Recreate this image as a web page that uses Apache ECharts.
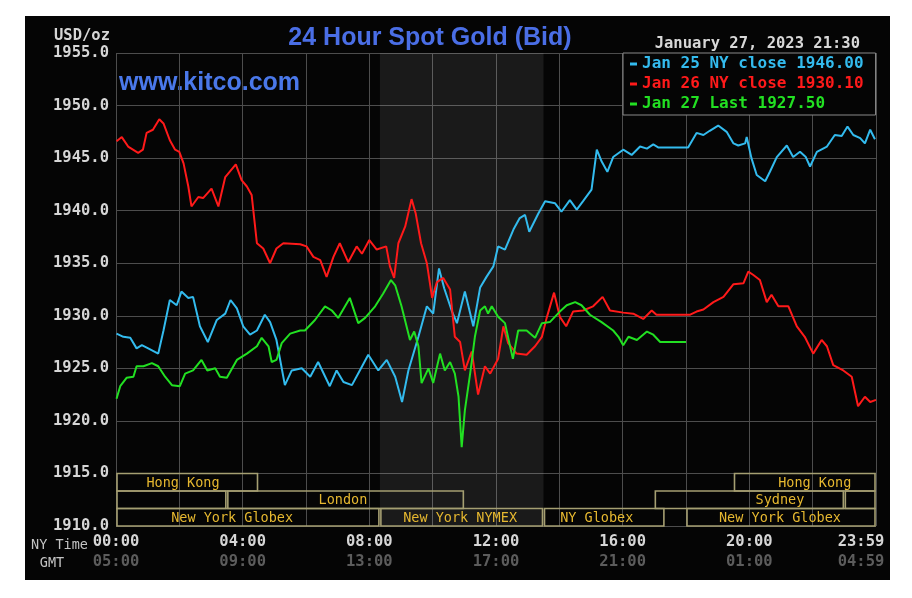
<!DOCTYPE html>
<html><head><meta charset="utf-8">
<script src="https://cdn.jsdelivr.net/npm/echarts@6/dist/echarts.min.js"></script>
<style>
html,body{margin:0;padding:0;background:#fff;}
#bg{position:absolute;left:25px;top:16px;width:865px;height:564px;background:#050505;}
#chart{position:absolute;left:0;top:0;width:912px;height:598px;}
</style></head><body>
<div id="bg"></div><div id="chart"></div>
<script>
// ---- data (minutes after 00:00 NY time, price) ----
const jan25 = [[1,1928.3],[14,1928.0],[27,1927.9],[39,1926.9],[49,1927.2],[61,1926.9],[80,1926.4],[90,1928.6],[102,1931.5],[115,1931.0],[124,1932.3],[137,1931.7],[146,1931.8],[159,1929.0],[174,1927.5],[191,1929.6],[207,1930.2],[217,1931.5],[229,1930.7],[241,1929.0],[254,1928.2],[267,1928.6],[282,1930.1],[292,1929.4],[304,1927.7],[320,1923.4],[333,1924.8],[352,1925.0],[368,1924.2],[383,1925.6],[405,1923.3],[418,1924.8],[431,1923.7],[447,1923.4],[462,1924.8],[478,1926.3],[497,1924.8],[513,1925.8],[529,1924.2],[542,1921.8],[554,1924.8],[573,1928.0],[589,1930.9],[601,1930.2],[612,1934.5],[622,1932.6],[636,1930.5],[646,1929.3],[661,1932.3],[677,1929.0],[690,1932.7],[702,1933.7],[715,1934.7],[724,1936.6],[737,1936.3],[753,1938.2],[765,1939.3],[775,1939.6],[783,1938.0],[800,1939.7],[813,1940.9],[832,1940.7],[844,1939.9],[860,1941.0],[873,1940.1],[885,1940.9],[901,1942.0],[911,1945.8],[920,1944.7],[931,1943.7],[942,1945.1],[961,1945.8],[977,1945.3],[993,1946.1],[1006,1945.9],[1018,1946.3],[1028,1946.0],[1084,1946.0],[1100,1947.4],[1113,1947.2],[1125,1947.6],[1141,1948.1],[1157,1947.5],[1170,1946.4],[1179,1946.2],[1192,1946.4],[1195,1947.0],[1204,1945.0],[1214,1943.4],[1230,1942.8],[1239,1943.7],[1252,1945.1],[1271,1946.2],[1283,1945.1],[1296,1945.6],[1307,1945.1],[1315,1944.2],[1328,1945.6],[1347,1946.1],[1362,1947.2],[1375,1947.1],[1386,1948.0],[1397,1947.2],[1410,1946.9],[1419,1946.4],[1429,1947.7],[1438,1946.8]];
const jan26 = [[1,1946.6],[11,1947.0],[23,1946.1],[42,1945.5],[51,1945.8],[58,1947.4],[70,1947.7],[82,1948.7],[90,1948.3],[102,1946.7],[112,1945.8],[120,1945.6],[128,1944.5],[137,1942.3],[143,1940.4],[156,1941.3],[165,1941.2],[181,1942.1],[194,1940.4],[207,1943.2],[227,1944.4],[238,1942.9],[248,1942.3],[257,1941.5],[267,1936.9],[279,1936.4],[292,1935.0],[304,1936.4],[317,1936.9],[349,1936.8],[361,1936.6],[374,1935.6],[387,1935.3],[399,1933.7],[412,1935.6],[424,1936.9],[440,1935.1],[456,1936.6],[466,1935.9],[480,1937.2],[494,1936.3],[512,1936.6],[519,1934.7],[527,1933.6],[535,1936.9],[548,1938.5],[560,1941.1],[568,1939.7],[578,1936.9],[589,1935.0],[599,1931.7],[608,1933.2],[620,1933.6],[633,1932.5],[642,1928.0],[652,1927.5],[661,1924.8],[674,1926.6],[686,1922.5],[699,1925.2],[709,1924.5],[724,1925.9],[734,1929.0],[743,1927.4],[759,1926.4],[778,1926.3],[794,1927.1],[807,1928.0],[816,1929.8],[830,1932.2],[841,1929.9],[853,1929.0],[866,1930.4],[885,1930.5],[904,1930.9],[922,1931.8],[936,1930.5],[961,1930.3],[980,1930.2],[999,1929.7],[1015,1930.5],[1024,1930.1],[1088,1930.1],[1100,1930.4],[1113,1930.6],[1132,1931.3],[1151,1931.8],[1170,1933.0],[1189,1933.1],[1198,1934.2],[1207,1933.9],[1220,1933.4],[1233,1931.3],[1242,1932.0],[1255,1930.9],[1274,1930.9],[1290,1929.0],[1305,1928.0],[1321,1926.4],[1337,1927.7],[1347,1927.1],[1359,1925.3],[1378,1924.8],[1394,1924.2],[1406,1921.4],[1419,1922.3],[1429,1921.8],[1440,1922.0]];
const jan27 = [[1,1922.1],[8,1923.3],[20,1924.1],[33,1924.2],[39,1925.2],[52,1925.2],[68,1925.5],[80,1925.2],[93,1924.2],[106,1923.4],[121,1923.3],[131,1924.5],[146,1924.8],[162,1925.8],[173,1924.8],[188,1925.0],[197,1924.2],[210,1924.1],[229,1925.8],[248,1926.4],[267,1927.1],[276,1927.9],[289,1927.1],[295,1925.6],[304,1925.8],[314,1927.4],[330,1928.3],[349,1928.6],[358,1928.6],[377,1929.6],[396,1930.9],[409,1930.5],[421,1929.8],[443,1931.7],[459,1929.3],[472,1929.8],[491,1930.9],[506,1932.1],[521,1933.4],[529,1932.9],[541,1930.9],[557,1927.7],[565,1928.5],[573,1927.1],[579,1923.6],[592,1925.0],[601,1923.6],[614,1926.4],[623,1924.8],[633,1925.6],[642,1924.5],[649,1922.3],[655,1917.5],[661,1921.0],[671,1924.5],[680,1928.0],[690,1930.5],[699,1930.9],[705,1930.2],[712,1930.9],[724,1929.9],[737,1929.3],[752,1925.9],[762,1928.6],[778,1928.6],[794,1927.9],[807,1929.3],[822,1929.4],[841,1930.4],[854,1931.0],[870,1931.3],[882,1931.0],[898,1930.1],[920,1929.4],[942,1928.6],[952,1928.0],[961,1927.2],[971,1928.0],[987,1927.7],[1006,1928.5],[1018,1928.2],[1031,1927.5],[1080,1927.5]];
const seriesNames = ['Jan 25 NY close 1946.00', 'Jan 26 NY close 1930.10', 'Jan 27 Last 1927.50'];
const seriesColors = ['#33bbee', '#ff1a1a', '#22e022'];
// y axis
const yMin = 1910, yMax = 1955, yStep = 5;
// x axis (minutes)
const xMin = 0, xMax = 1440, xStep = 120, xLabelStep = 240;
const nymexSpan = [500, 810];
// trading sessions: row, start, end, label, label anchor (minutes)
const sessions = [
  {row:0, start:0, end:270, label:'Hong Kong', at:127},
  {row:0, start:1170, end:1440, label:'Hong Kong', at:1324},
  {row:1, start:0, end:210, label:'', at:105},
  {row:1, start:210, end:660, label:'London', at:430},
  {row:1, start:1020, end:1380, label:'Sydney', at:1258},
  {row:1, start:1380, end:1440, label:'', at:1410},
  {row:2, start:0, end:500, label:'New York Globex', at:220},
  {row:2, start:500, end:810, label:'New York NYMEX', at:652},
  {row:2, start:810, end:1040, label:'NY Globex', at:911},
  {row:2, start:1080, end:1440, label:'New York Globex', at:1258}
];

const MONO = '"DejaVu Sans Mono", monospace';
const chart = echarts.init(document.getElementById('chart'), null, {renderer:'canvas'});
function pad(n){ return (n<10?'0':'') + n; }

const lineSeries = [jan25, jan26, jan27].map((d, i) => ({
  type:'line', name: seriesNames[i], data: d, showSymbol:false, symbol:'none',
  lineStyle:{color: seriesColors[i], width:2}, itemStyle:{color: seriesColors[i]},
  z: 3 + i,
  markArea: i === 0 ? {silent:true, itemStyle:{color:'rgba(255,255,255,0.085)'},
    data:[[{xAxis: nymexSpan[0]}, {xAxis: nymexSpan[1]}]]} : undefined
}));

const rowH = yStep / 3;
const sessionSeries = {
  type:'custom', silent:true, z: 2,
  data: sessions.map(s => [s.start, s.end]),
  encode:{x:[0,1]},
  renderItem: function(params, api){
    const s = sessions[params.dataIndex];
    const top = (yMin + yStep) - s.row * rowH;
    const p1 = api.coord([s.start, top]);
    const p2 = api.coord([s.end, top - rowH]);
    const children = [{
      type:'rect',
      shape:{x: p1[0] + 1, y: p1[1], width: p2[0] - p1[0] - 2, height: p2[1] - p1[1]},
      style:{fill:'rgba(0,0,0,0)', stroke:'#a59f72', lineWidth:1.6}
    }];
    if (s.label) {
      const c = api.coord([s.at, top - rowH/2]);
      children.push({type:'text', style:{text: s.label, x: c[0], y: c[1] + 1,
        fill:'#e6b830', font:'13.5px ' + MONO, align:'center', verticalAlign:'middle'}});
    }
    return {type:'group', children};
  }
};

chart.setOption({
  animation:false,
  backgroundColor:'transparent',
  grid:{left:116, right:36, top:53, bottom:72, containLabel:false, outerBoundsMode:'none'},
  legend:{
    data: seriesNames.map((n,i) => ({name:n, textStyle:{color: seriesColors[i]}})),
    orient:'vertical', left:623, top:53, icon:'rect', itemWidth:7, itemHeight:3, itemGap:4,
    padding:[3,12,3,7], backgroundColor:'#050505', borderColor:'#8a8a8a', borderWidth:1,
    selectedMode:false,
    textStyle:{fontFamily: MONO, fontWeight:'bold', fontSize:16, lineHeight:13}
  },
  xAxis:{
    type:'value', min:xMin, max:xMax, interval:xStep,
    axisLine:{show:false}, axisTick:{show:false},
    splitLine:{show:true, lineStyle:{color:'#4d4d4d', width:1}},
    axisLabel:{
      margin:6, lineHeight:20,
      formatter: function(v){
        if (v === xMax) return '{ce|23:59}\n{de|04:59}';
        if (v % xLabelStep !== 0) return '';
        const h = v / 60;
        return '{a|' + pad(h) + ':00}\n{b|' + pad((h + 5) % 24) + ':00}';
      },
      rich:{
        a:{color:'#d6d6d6', fontFamily:MONO, fontWeight:'bold', fontSize:15.5, lineHeight:20},
        b:{color:'#5c5c5c', fontFamily:MONO, fontWeight:'bold', fontSize:15.5, lineHeight:20},
        ce:{color:'#d6d6d6', fontFamily:MONO, fontWeight:'bold', fontSize:15.5, lineHeight:20, padding:[0,30,0,0]},
        de:{color:'#5c5c5c', fontFamily:MONO, fontWeight:'bold', fontSize:15.5, lineHeight:20, padding:[0,30,0,0]}
      }
    }
  },
  yAxis:{
    type:'value', min:yMin, max:yMax, interval:yStep,
    axisLine:{show:false}, axisTick:{show:false},
    splitLine:{show:true, lineStyle:{color:'#4d4d4d', width:1}},
    axisLabel:{margin:7, color:'#d6d6d6', fontFamily:MONO, fontWeight:'bold', fontSize:15.5,
      formatter: v => v.toFixed(1)}
  },
  graphic:[
    {type:'text', x:110, y:36, style:{text:'USD/oz', fill:'#d6d6d6', font:'bold 15.5px ' + MONO, align:'right', verticalAlign:'middle'}},
    {type:'text', x:430, y:38, style:{text:'24 Hour Spot Gold (Bid)', fill:'#4a6ee6', font:'bold 25px "Liberation Sans", Arial, sans-serif', align:'center', verticalAlign:'middle'}},
    {type:'text', x:119, y:83, style:{text:'www.kitco.com', fill:'#4a78ea', font:'bold 25px "Liberation Sans", Arial, sans-serif', align:'left', verticalAlign:'middle'}},
    {type:'text', x:860, y:44, style:{text:'January 27, 2023 21:30', fill:'#d8d8d8', font:'bold 15.5px ' + MONO, align:'right', verticalAlign:'middle'}},
    {type:'text', x:88, y:545, style:{text:'NY Time', fill:'#c4c4c4', font:'13.5px ' + MONO, align:'right', verticalAlign:'middle'}},
    {type:'text', x:52, y:563, style:{text:'GMT', fill:'#c4c4c4', font:'13.5px ' + MONO, align:'center', verticalAlign:'middle'}}
  ],
  series: lineSeries.concat([sessionSeries])
});
</script>
</body></html>
